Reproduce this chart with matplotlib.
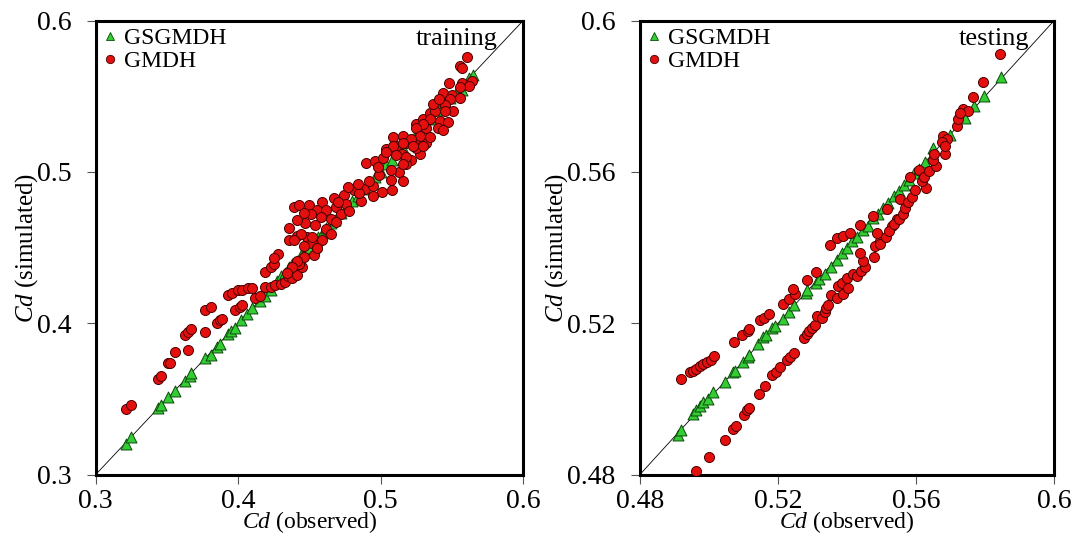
import matplotlib
matplotlib.use("Agg")
import matplotlib.pyplot as plt
from matplotlib.lines import Line2D

plt.rcParams['font.family'] = ['Liberation Serif', 'DejaVu Serif']
plt.rcParams['mathtext.fontset'] = 'custom'
plt.rcParams['mathtext.rm'] = 'Liberation Serif'
plt.rcParams['mathtext.it'] = 'Liberation Serif:italic'

# training - GSGMDH
train_gs_x = [0.321, 0.325, 0.344, 0.346, 0.351, 0.356, 0.363, 0.366, 0.367, 0.377,
              0.381, 0.385, 0.387, 0.393, 0.395, 0.398, 0.402, 0.406, 0.410, 0.415,
              0.419, 0.423, 0.427, 0.430, 0.433, 0.436, 0.438, 0.441, 0.444, 0.447,
              0.450, 0.453, 0.456, 0.459, 0.462, 0.465, 0.468, 0.472, 0.476, 0.480,
              0.484, 0.488, 0.492, 0.496, 0.500, 0.504, 0.508, 0.512, 0.516, 0.520,
              0.524, 0.528, 0.532, 0.537, 0.541, 0.545, 0.549, 0.553, 0.557, 0.562,
              0.565]
train_gs_y = [0.320, 0.325, 0.344, 0.346, 0.351, 0.355, 0.362, 0.365, 0.367, 0.377,
              0.379, 0.384, 0.386, 0.393, 0.395, 0.397, 0.402, 0.406, 0.410, 0.415,
              0.418, 0.422, 0.428, 0.431, 0.433, 0.437, 0.439, 0.441, 0.445, 0.448,
              0.450, 0.454, 0.457, 0.459, 0.463, 0.466, 0.468, 0.473, 0.476, 0.481,
              0.484, 0.489, 0.492, 0.497, 0.500, 0.505, 0.508, 0.513, 0.516, 0.521,
              0.524, 0.529, 0.532, 0.535, 0.541, 0.546, 0.549, 0.552, 0.554, 0.562,
              0.564]

# training - GMDH
train_gm_x = [0.321, 0.325, 0.344, 0.346, 0.351, 0.352, 0.356, 0.365, 0.363, 0.365,
              0.367, 0.377, 0.377, 0.381, 0.385, 0.387, 0.389, 0.398, 0.401, 0.403,
              0.393, 0.396, 0.400, 0.403, 0.407, 0.410, 0.412, 0.415, 0.419, 0.423,
              0.426, 0.430, 0.433, 0.419, 0.423, 0.425, 0.435, 0.438, 0.441, 0.445,
              0.443, 0.428, 0.425, 0.436, 0.441, 0.448, 0.452, 0.455, 0.453, 0.446,
              0.441, 0.438, 0.434, 0.439, 0.443, 0.450, 0.459, 0.467, 0.474, 0.481,
              0.489, 0.495, 0.501, 0.508, 0.516, 0.507, 0.513, 0.490, 0.496, 0.502,
              0.504, 0.511, 0.518, 0.525, 0.509, 0.516, 0.525, 0.530, 0.455, 0.462,
              0.469, 0.476, 0.486, 0.495, 0.451, 0.458, 0.465, 0.472, 0.447, 0.454,
              0.462, 0.469, 0.444, 0.452, 0.459, 0.465, 0.439, 0.446, 0.455, 0.436,
              0.441, 0.446, 0.521, 0.528, 0.532, 0.525, 0.515, 0.518, 0.507, 0.532,
              0.535, 0.561, 0.556, 0.557, 0.548, 0.557, 0.564, 0.562, 0.556, 0.544,
              0.550, 0.556, 0.549, 0.545, 0.551, 0.545, 0.538, 0.535, 0.542, 0.547,
              0.530, 0.540, 0.544, 0.525, 0.528, 0.535, 0.521, 0.516, 0.523, 0.530,
              0.509, 0.511, 0.518, 0.504, 0.516, 0.478, 0.485, 0.492, 0.499, 0.484,
              0.470, 0.477, 0.498, 0.537, 0.541]
train_gm_y = [0.343, 0.346, 0.363, 0.365, 0.374, 0.374, 0.381, 0.382, 0.392, 0.394,
              0.396, 0.394, 0.409, 0.411, 0.400, 0.402, 0.403, 0.409, 0.411, 0.412,
              0.419, 0.420, 0.422, 0.422, 0.423, 0.423, 0.417, 0.418, 0.424, 0.424,
              0.425, 0.426, 0.427, 0.434, 0.437, 0.439, 0.431, 0.430, 0.432, 0.437,
              0.439, 0.446, 0.443, 0.455, 0.458, 0.457, 0.453, 0.450, 0.445, 0.444,
              0.441, 0.437, 0.433, 0.477, 0.478, 0.478, 0.480, 0.483, 0.485, 0.488,
              0.489, 0.491, 0.487, 0.488, 0.494, 0.495, 0.500, 0.506, 0.507, 0.509,
              0.515, 0.517, 0.519, 0.521, 0.523, 0.524, 0.532, 0.535, 0.475, 0.475,
              0.477, 0.479, 0.481, 0.484, 0.472, 0.470, 0.469, 0.472, 0.466, 0.465,
              0.462, 0.467, 0.459, 0.457, 0.455, 0.459, 0.455, 0.451, 0.450, 0.463,
              0.468, 0.473, 0.508, 0.512, 0.519, 0.516, 0.512, 0.505, 0.501, 0.529,
              0.539, 0.576, 0.570, 0.569, 0.559, 0.559, 0.560, 0.557, 0.556, 0.552,
              0.551, 0.549, 0.548, 0.544, 0.540, 0.540, 0.540, 0.535, 0.534, 0.533,
              0.532, 0.529, 0.528, 0.529, 0.524, 0.523, 0.522, 0.519, 0.517, 0.517,
              0.517, 0.511, 0.510, 0.513, 0.505, 0.474, 0.486, 0.494, 0.498, 0.492,
              0.480, 0.490, 0.503, 0.545, 0.548]

# testing - GSGMDH
test_gs_x = [0.4911, 0.4918, 0.4953, 0.4963, 0.4973, 0.4983, 0.4998, 0.5013, 0.5046, 0.5069,
             0.5076, 0.5099, 0.5112, 0.5116, 0.5142, 0.5156, 0.5164, 0.5182, 0.5192, 0.5215,
             0.5233, 0.5247, 0.5280, 0.5285, 0.5310, 0.5320, 0.5335, 0.5355, 0.5370, 0.5385,
             0.5400, 0.5415, 0.5430, 0.5445, 0.5460, 0.5475, 0.5490, 0.5505, 0.5520, 0.5535,
             0.5550, 0.5565, 0.5580, 0.5595, 0.5610, 0.5625, 0.5650, 0.5699, 0.5742, 0.5768,
             0.5797, 0.5845]
test_gs_y = [0.4905, 0.4919, 0.4959, 0.4971, 0.4981, 0.4992, 0.5001, 0.5019, 0.5044, 0.5071,
             0.5075, 0.5097, 0.5111, 0.5117, 0.5146, 0.5164, 0.5169, 0.5187, 0.5194, 0.5212,
             0.5231, 0.5249, 0.5280, 0.5287, 0.5307, 0.5316, 0.5329, 0.5349, 0.5368, 0.5386,
             0.5398, 0.5417, 0.5429, 0.5446, 0.5458, 0.5477, 0.5489, 0.5506, 0.5518, 0.5537,
             0.5549, 0.5566, 0.5578, 0.5597, 0.5609, 0.5627, 0.5664, 0.5697, 0.5744, 0.5774,
             0.5800, 0.5851]

# testing - GMDH
test_gm_x = [0.4918, 0.4945, 0.4953, 0.4963, 0.4973, 0.4983, 0.4995, 0.5005, 0.5015, 0.5072,
             0.5096, 0.5112, 0.5116, 0.5149, 0.5159, 0.5174, 0.5215, 0.5233, 0.5250, 0.5244,
             0.5285, 0.5310, 0.5351, 0.5370, 0.5389, 0.5409, 0.5438, 0.5476, 0.5515, 0.5554,
             0.4961, 0.5001, 0.5047, 0.5069, 0.5079, 0.5102, 0.5109, 0.5116, 0.5144, 0.5162,
             0.5184, 0.5194, 0.5205, 0.5225, 0.5235, 0.5245, 0.5275, 0.5283, 0.5290, 0.5300,
             0.5307, 0.5313, 0.5327, 0.5335, 0.5340, 0.5345, 0.5355, 0.5370, 0.5375, 0.5386,
             0.5388, 0.5401, 0.5404, 0.5418, 0.5428, 0.5441, 0.5451, 0.5447, 0.5438, 0.5481,
             0.5496, 0.5486, 0.5530, 0.5544, 0.5477, 0.5497, 0.5512, 0.5522, 0.5537, 0.5552,
             0.5562, 0.5567, 0.5577, 0.5587, 0.5598, 0.5628, 0.5617, 0.5583, 0.5608, 0.5623,
             0.5638, 0.5658, 0.5648, 0.5653, 0.5683, 0.5679, 0.5689, 0.5674, 0.5684, 0.5718,
             0.5723, 0.5737, 0.5752, 0.5728, 0.5766, 0.5795, 0.5843]
test_gm_y = [0.5053, 0.5071, 0.5075, 0.5079, 0.5086, 0.5093, 0.5097, 0.5104, 0.5113, 0.5151,
             0.5169, 0.5179, 0.5184, 0.5209, 0.5215, 0.5224, 0.5251, 0.5264, 0.5278, 0.5290,
             0.5315, 0.5335, 0.5406, 0.5426, 0.5430, 0.5439, 0.5461, 0.5483, 0.5501, 0.5528,
             0.4810, 0.4846, 0.4892, 0.4921, 0.4927, 0.4957, 0.4971, 0.4977, 0.5013, 0.5035,
             0.5062, 0.5071, 0.5084, 0.5102, 0.5111, 0.5122, 0.5160, 0.5171, 0.5179, 0.5187,
             0.5196, 0.5218, 0.5213, 0.5231, 0.5240, 0.5249, 0.5276, 0.5267, 0.5298, 0.5306,
             0.5277, 0.5320, 0.5293, 0.5329, 0.5325, 0.5338, 0.5349, 0.5364, 0.5387, 0.5404,
             0.5417, 0.5439, 0.5457, 0.5475, 0.5374, 0.5409, 0.5427, 0.5445, 0.5463, 0.5476,
             0.5490, 0.5506, 0.5521, 0.5535, 0.5553, 0.5557, 0.5575, 0.5588, 0.5606, 0.5588,
             0.5602, 0.5617, 0.5633, 0.5647, 0.5647, 0.5695, 0.5686, 0.5678, 0.5669, 0.5721,
             0.5739, 0.5766, 0.5761, 0.5757, 0.5797, 0.5838, 0.5911]

panels = [
    ([0.0893, 0.1114, 0.3986, 0.8498], 0.3, 0.6, [0.3, 0.4, 0.5, 0.6], ['0.3', '0.4', '0.5', '0.6'],
     train_gs_x, train_gs_y, train_gm_x, train_gm_y, 'training'),
    ([0.5970, 0.1114, 0.3862, 0.8498], 0.48, 0.6, [0.48, 0.52, 0.56, 0.6], ['0.48', '0.52', '0.56', '0.6'],
     test_gs_x, test_gs_y, test_gm_x, test_gm_y, 'testing'),
]

green = '#33cc33'
red = '#e41010'

fig = plt.figure(figsize=(10.72, 5.34), dpi=100)
for rect, lo, hi, ticks, labels, gx, gy, rx, ry, tag in panels:
    ax = fig.add_axes(rect)
    ax.plot([lo, hi], [lo, hi], color='black', lw=0.6, zorder=1)
    ax.scatter(gx, gy, marker='^', s=62, color=green, edgecolors='#0b4a0b', linewidths=0.7, zorder=2)
    ax.scatter(rx, ry, marker='o', s=52, color=red, edgecolors='#4a0000', linewidths=0.7, zorder=3)
    ax.set_xlim(lo, hi)
    ax.set_ylim(lo, hi)
    ax.set_xticks(ticks)
    ax.set_yticks(ticks)
    ax.set_xticklabels(labels)
    ax.set_yticklabels(labels)
    ax.tick_params(direction='out', length=6.5, width=0.8, color='#555555', labelsize=20,
                   top=False, right=False)
    ax.tick_params(axis='x', pad=4)
    ax.tick_params(axis='y', pad=11)
    for sp in ax.spines.values():
        sp.set_linewidth(2.2)
    ax.set_xlabel(r'$\mathit{Cd}$ (observed)', fontsize=17)
    ax.xaxis.label.set_va('baseline')
    ax.xaxis.set_label_coords(0.5, -0.118)
    ax.set_ylabel(r'$\mathit{Cd}$ (simulated)', fontsize=18, labelpad=-2)
    ax.text(0.94, 0.985, tag, transform=ax.transAxes, ha='right', va='top', fontsize=19)
    handles = [
        Line2D([], [], marker='^', ls='none', markersize=6, color=green, markeredgecolor='#0b4a0b', markeredgewidth=0.6),
        Line2D([], [], marker='o', ls='none', markersize=6, color=red, markeredgecolor='#4a0000', markeredgewidth=0.6),
    ]
    ax.legend(handles, ['GSGMDH', 'GMDH'], loc='upper left', frameon=False, fontsize=17,
              handlelength=0.6, handletextpad=0.3, labelspacing=0.05, borderaxespad=0.1,
              borderpad=0.2)

fig.savefig('out.png', dpi=100)
